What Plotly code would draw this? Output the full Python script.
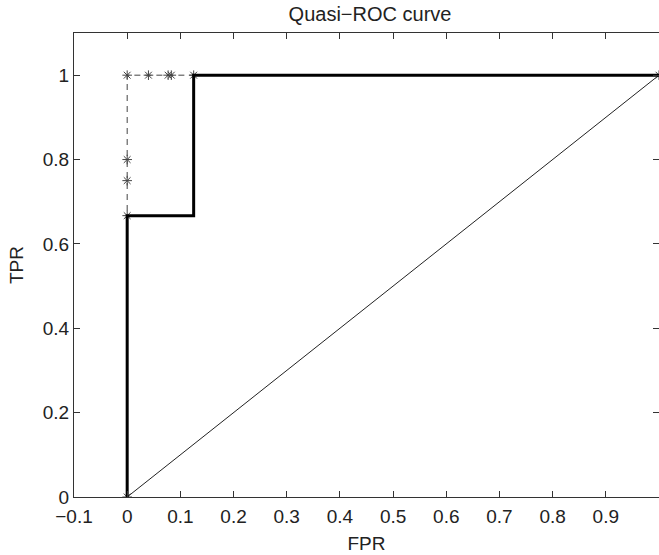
import plotly.graph_objects as go

# data
fpr_star = [0, 0, 0, 0, 0, 0.04, 0.077, 0.083, 0.125, 1.0]
tpr_star = [0, 0.667, 0.75, 0.8, 1.0, 1.0, 1.0, 1.0, 1.0, 1.0]
fpr_roc = [0, 0, 0.125, 0.125, 1.0]
tpr_roc = [0, 0.667, 0.667, 1.0, 1.0]
diag_x = [0, 1]
diag_y = [0, 1]
xticks = [-0.1, 0, 0.1, 0.2, 0.3, 0.4, 0.5, 0.6, 0.7, 0.8, 0.9]
xticklabels = ["\u22120.1", "0", "0.1", "0.2", "0.3", "0.4", "0.5", "0.6", "0.7", "0.8", "0.9"]
yticks = [0, 0.2, 0.4, 0.6, 0.8, 1.0]
yticklabels = ["0", "0.2", "0.4", "0.6", "0.8", "1"]

FONT = "Liberation Sans, Arial, sans-serif"

fig = go.Figure()
fig.add_trace(go.Scatter(x=diag_x, y=diag_y, mode="lines",
                         line=dict(color="#222222", width=1), showlegend=False))
fig.add_trace(go.Scatter(x=fpr_star, y=tpr_star, mode="lines+markers",
                         line=dict(color="#444444", width=1, dash="6px,5px"),
                         marker=dict(symbol="asterisk-open", size=8,
                                     line=dict(color="#222222", width=1)),
                         showlegend=False))
fig.add_trace(go.Scatter(x=fpr_roc, y=tpr_roc, mode="lines",
                         line=dict(color="black", width=3), showlegend=False))

axis_common = dict(showgrid=False, zeroline=False, showline=True, linecolor="#333333",
                   linewidth=1, mirror="ticks", ticks="inside", ticklen=6,
                   automargin=False,
                   tickcolor="#333333", tickfont=dict(family=FONT, size=19, color="#222222"))

fig.update_xaxes(range=[-0.1, 1.0], tickvals=xticks, ticktext=xticklabels,
                 ticklabelstandoff=2,
                 title=dict(text="FPR", font=dict(family=FONT, size=19, color="#222222"),
                            standoff=10),
                 **axis_common)
fig.update_yaxes(range=[0, 1.1], tickvals=yticks, ticktext=yticklabels,
                 title=dict(text="TPR", font=dict(family=FONT, size=19, color="#222222"),
                            standoff=14),
                 **axis_common)

fig.update_layout(
    width=659, height=555,
    margin=dict(l=74, r=0, t=33, b=58),
    paper_bgcolor="white", plot_bgcolor="white",
    title=dict(text="Quasi\u2212ROC curve", x=370 / 659, xanchor="center", xref="container",
               y=1 - 14 / 555, yanchor="middle", yref="container",
               font=dict(family=FONT, size=20, color="#222222")),
)

fig.write_html("out.html", config={"displayModeBar": False},
               post_script="document.body.style.margin='0';document.body.style.overflow='hidden';")
